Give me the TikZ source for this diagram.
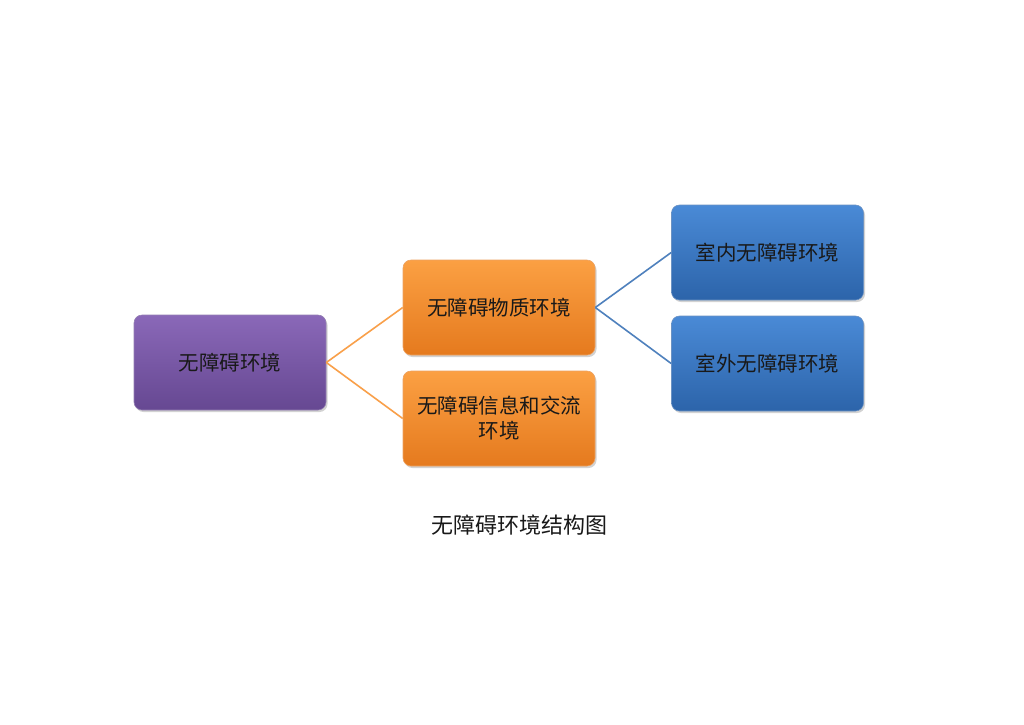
\documentclass[tikz,border=0pt]{standalone}
\usepackage{fontspec}
\newfontfamily\cjk{Noto Sans CJK SC}
\usetikzlibrary{shadows}
\definecolor{purpT}{HTML}{8A68B8}
\definecolor{purpB}{HTML}{664892}
\definecolor{orT}{HTML}{FBA043}
\definecolor{orB}{HTML}{E57A1E}
\definecolor{blT}{HTML}{4A8AD6}
\definecolor{blB}{HTML}{2C64AA}
\definecolor{orLine}{HTML}{F9A04A}
\definecolor{blLine}{HTML}{4F81BD}
\tikzset{
  card/.style={rounded corners=8pt, minimum width=192pt, minimum height=95pt,
    align=center, text width=185pt, font=\cjk\fontsize{20.5}{25}\selectfont,
    text=black!90, drop shadow={shadow xshift=1.5pt, shadow yshift=-2pt, opacity=0.35},
    draw=white!70!black, line width=0.6pt},
  purplecard/.style={card, top color=purpT, bottom color=purpB, draw=purpB!70!white},
  orangecard/.style={card, top color=orT, bottom color=orB, draw=orB!70!white},
  bluecard/.style={card, top color=blT, bottom color=blB, draw=blB!70!white},
  orlink/.style={draw=orLine, line width=1.6pt},
  bllink/.style={draw=blLine, line width=1.6pt}
}
\begin{document}
\begin{tikzpicture}[x=1pt,y=-1pt]
\useasboundingbox[fill=white] (0,0) rectangle (1024,724);
\node[purplecard] (root) at (230,362.5) {无障碍环境};
\node[orangecard] (phys) at (499,307.5) {无障碍物质环境};
\node[orangecard] (info) at (499,418.5) {无障碍信息和交流\\环境};
\node[bluecard] (indoor) at (767.5,252.5) {室内无障碍环境};
\node[bluecard] (outdoor) at (767.5,363.5) {室外无障碍环境};
\draw[orlink] (root.east) -- (phys.west);
\draw[orlink] (root.east) -- (info.west);
\draw[bllink] (phys.east) -- (indoor.west);
\draw[bllink] (phys.east) -- (outdoor.west);
\node[font=\cjk\fontsize{22}{26}\selectfont, text=black!90] (cap) at (519,525) {无障碍环境结构图};
\end{tikzpicture}
\end{document}
